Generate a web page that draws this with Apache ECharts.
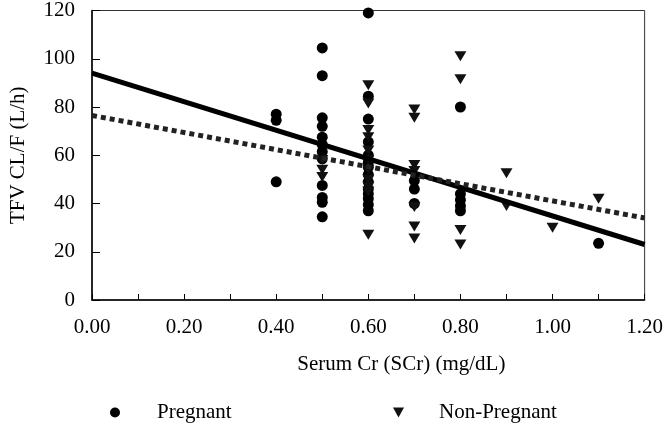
<!DOCTYPE html>
<html>
<head>
<meta charset="utf-8">
<script src="https://cdn.jsdelivr.net/npm/echarts@6/dist/echarts.min.js"></script>
<style>html,body{margin:0;padding:0;background:#fff}#c{width:666px;height:423px}</style>
</head>
<body>
<div id="c"></div>
<script>
// Pregnant (circles)
const pregnantSCr = [0.4,0.4,0.4,
  0.5,0.5,0.5,0.5,0.5,0.5,0.5,0.5,0.5,0.5,0.5,0.5,
  0.6,0.6,0.6,0.6,0.6,0.6,0.6,0.6,0.6,0.6,0.6,0.6,0.6,0.6,
  0.7,0.7,0.7,
  0.8,0.8,0.8,0.8,0.8,
  1.1];
const pregnantCL = [77,74.5,49,
  104.5,93,75.5,72,67.5,64.5,61.5,58.5,47.5,42.5,40.5,34.5,
  119,84.5,75,65.5,60,57,55,52,49,46,44,42,39.5,37,
  49.5,46,40,
  80,44,41.5,39,37,
  23.5];
// Non-pregnant (down triangles)
const nonPregSCr = [0.5,0.5,0.5,
  0.6,0.6,0.6,0.6,0.6,0.6,0.6,0.6,0.6,0.6,0.6,
  0.7,0.7,0.7,0.7,0.7,0.7,0.7,
  0.8,0.8,0.8,0.8,
  0.9,0.9,
  1.0,
  1.1];
const nonPregCL = [58,54,51,
  89,81.5,70.5,67.5,62,58,54,50,47,45,27,
  79,75.5,56,53.5,38.5,30.5,25.5,
  101,91.5,29,23,
  52.5,39,
  30,
  42];
// Regression line end points
const lineX = [0, 1.2];
const pregnantFit = [94, 23];
const nonPregFit = [76.5, 34];

const xTicks = {min: 0, max: 1.2, step: 0.1};
const yTicks = {min: 0, max: 120, step: 20};

const zip = (xs, ys) => xs.map((x, i) => [x, ys[i]]);
const font = 'Liberation Serif';
const downTri = 'path://M0,0L10,0L5,9Z';

const chart = echarts.init(document.getElementById('c'));
chart.setOption({
  animation: false,
  backgroundColor: '#fff',
  textStyle: {fontFamily: font, color: '#000'},
  grid: {left: 85, right: 19, top: 4, bottom: 123, show: true, borderColor: '#333', borderWidth: 1},
  xAxis: {
    type: 'value', min: xTicks.min, max: xTicks.max, interval: xTicks.step,
    name: 'Serum Cr (SCr) (mg/dL)', nameLocation: 'middle', nameGap: 54,
    nameTextStyle: {fontFamily: font, fontSize: 21, color: '#000', padding: [0, 0, 0, 66]},
    axisLine: {lineStyle: {color: '#000', width: 1.5}},
    axisTick: {inside: true, length: 6, lineStyle: {color: '#000', width: 1}},
    splitLine: {show: false},
    axisLabel: {
      fontFamily: font, fontSize: 21, color: '#000', margin: 17,
      formatter: v => (Math.round(v * 10) % 2 === 0 ? v.toFixed(2) : '')
    }
  },
  yAxis: {
    type: 'value', min: yTicks.min, max: yTicks.max, interval: yTicks.step,
    name: 'TFV CL/F (L/h)', nameLocation: 'middle', nameGap: 63,
    nameTextStyle: {fontFamily: font, fontSize: 21, color: '#000'},
    axisLine: {lineStyle: {color: '#000', width: 1.5}},
    axisTick: {inside: true, length: 8, lineStyle: {color: '#000', width: 1}},
    splitLine: {show: false},
    axisLabel: {fontFamily: font, fontSize: 21, color: '#000', margin: 17, padding: [8, 0, 0, 0]}
  },
  legend: [
    {data: [{name: 'Pregnant', icon: 'circle'}], left: 105, top: 397, itemWidth: 10, itemHeight: 10,
     textStyle: {fontFamily: font, fontSize: 21, color: '#000', padding: [0, 0, 0, 32]}},
    {data: [{name: 'Non-Pregnant', icon: downTri}], left: 388, top: 397, itemWidth: 11, itemHeight: 10,
     textStyle: {fontFamily: font, fontSize: 21, color: '#000', padding: [0, 0, 0, 30]}}
  ],
  series: [
    {name: 'Pregnant', type: 'scatter', symbol: 'circle', symbolSize: 11,
     itemStyle: {color: '#000', opacity: 1}, data: zip(pregnantSCr, pregnantCL)},
    {name: 'Non-Pregnant', type: 'scatter', symbol: 'triangle', symbolRotate: 180, symbolSize: [12, 10],
     itemStyle: {color: '#111', opacity: 1}, data: zip(nonPregSCr, nonPregCL)},
    {name: 'Pregnant fit', type: 'line', showSymbol: false, symbol: 'none',
     lineStyle: {color: '#000', width: 5}, data: zip(lineX, pregnantFit)},
    {name: 'Non-Pregnant fit', type: 'line', showSymbol: false, symbol: 'none',
     lineStyle: {color: '#222', width: 5, type: [5, 4]}, data: zip(lineX, nonPregFit)}
  ]
});
</script>
</body>
</html>
